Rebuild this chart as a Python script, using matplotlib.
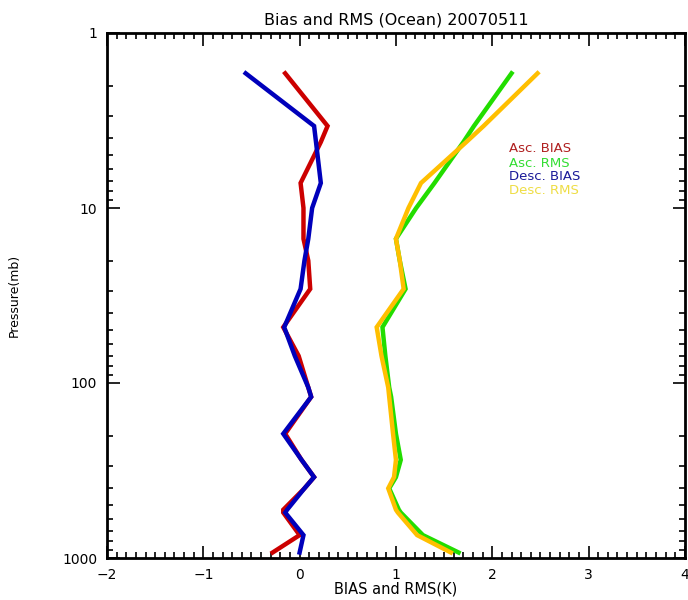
import matplotlib
matplotlib.use('Agg')
import matplotlib.pyplot as plt
from matplotlib.ticker import MultipleLocator, LogLocator, NullFormatter

# pressure levels (mb) shared by all four profiles
pressure = [1.7, 3.4, 4.2, 7.2, 10, 15, 20, 29, 48, 70, 106, 120, 195, 275, 345, 400, 530, 550, 740, 930]

asc_bias = [-0.15, 0.29, 0.22, 0.01, 0.04, 0.04, 0.09, 0.11, -0.17, -0.01, 0.09, 0.12,
            -0.15, 0.02, 0.15, 0.05, -0.17, -0.17, 0.00, -0.28]
asc_rms = [2.20, 1.81, 1.70, 1.40, 1.21, 1.00, 1.04, 1.10, 0.86, 0.89, 0.93, 0.95,
           1.00, 1.05, 1.00, 0.93, 1.03, 1.05, 1.28, 1.65]
desc_bias = [-0.56, 0.15, 0.17, 0.22, 0.13, 0.09, 0.05, 0.01, -0.16, -0.05, 0.09, 0.12,
             -0.17, 0.02, 0.15, 0.05, -0.13, -0.15, 0.04, 0.00]
desc_rms = [2.47, 1.91, 1.73, 1.26, 1.13, 1.00, 1.04, 1.08, 0.80, 0.85, 0.92, 0.93,
            0.97, 1.00, 0.98, 0.92, 1.00, 1.02, 1.22, 1.57]

series_names = ['Asc. BIAS', 'Asc. RMS', 'Desc. BIAS', 'Desc. RMS']
series_colors = ['#cc0000', '#22dd00', '#0000bb', '#ffbf00']
legend_colors = ['#b02020', '#33dd33', '#1a1a99', '#eedd44']

x_ticks = [-2, -1, 0, 1, 2, 3, 4]
x_labels = ['\u22122', '\u22121', '0', '1', '2', '3', '4']
y_ticks = [1, 10, 100, 1000]
y_labels = ['1', '10', '100', '1000']

fig = plt.figure(figsize=(6.88, 6.0), dpi=100)
ax = fig.add_axes([0.1555, 0.07, 0.84, 0.875])

for vals, col in zip([asc_bias, asc_rms, desc_bias, desc_rms], series_colors):
    ax.plot(vals, pressure, color=col, linewidth=3.2, solid_joinstyle='miter')

ax.set_yscale('log')
ax.set_ylim(1000, 1)
ax.set_xlim(-2, 4)

ax.set_xticks(x_ticks, x_labels)
ax.xaxis.set_minor_locator(MultipleLocator(0.1))
ax.set_yticks(y_ticks, y_labels)
ax.yaxis.set_minor_locator(LogLocator(base=10, subs=range(2, 10)))
ax.yaxis.set_minor_formatter(NullFormatter())

ax.tick_params(which='both', direction='in', top=True, right=True, labelsize=10, width=1.2)
ax.tick_params(which='major', length=9, pad=7)
ax.tick_params(which='minor', length=4)
for s in ax.spines.values():
    s.set_linewidth(2)

ax.set_title('Bias and RMS (Ocean) 20070511', fontsize=11.5, pad=6)
ax.set_xlabel('BIAS and RMS(K)', fontsize=10.5, labelpad=0)
ax.set_ylabel('Pressure(mb)', fontsize=9, labelpad=30)

# legend written as coloured text lines inside the plot
legend_y = [4.6, 5.55, 6.65, 7.95]
for name, col, yy in zip(series_names, legend_colors, legend_y):
    ax.text(2.17, yy, name, color=col, fontsize=9.5, va='center')

fig.savefig('out.png', dpi=100)
